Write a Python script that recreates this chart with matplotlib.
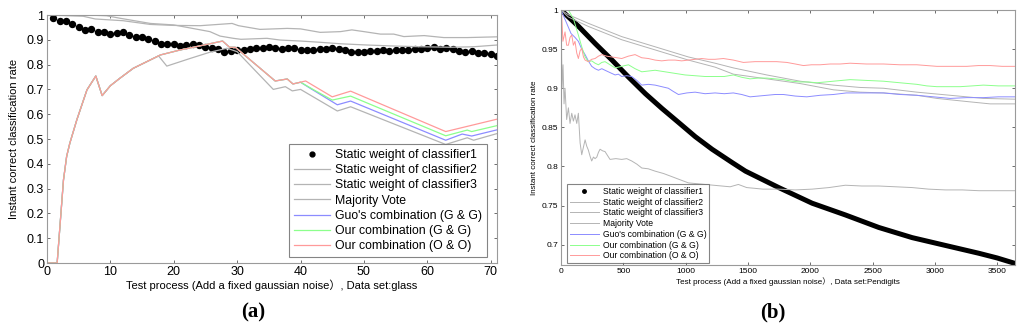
import matplotlib
matplotlib.use('Agg')
import matplotlib.pyplot as plt
from matplotlib.lines import Line2D
from matplotlib.ticker import FuncFormatter

plt.rcParams['font.family'] = ['Liberation Sans', 'Noto Sans CJK SC']

# ---------------- (a) glass ----------------
a_dot_x = list(range(1, 72))
a_dot_y = [0.989, 0.977, 0.977, 0.964, 0.950, 0.938, 0.942, 0.931, 0.933, 0.923,
           0.926, 0.930, 0.919, 0.910, 0.910, 0.904, 0.895, 0.884, 0.883, 0.885,
           0.876, 0.879, 0.882, 0.879, 0.871, 0.867, 0.862, 0.850, 0.856, 0.859,
           0.857, 0.862, 0.865, 0.866, 0.869, 0.865, 0.861, 0.865, 0.866, 0.860,
           0.857, 0.860, 0.861, 0.861, 0.865, 0.862, 0.857, 0.851, 0.852, 0.850,
           0.854, 0.856, 0.860, 0.855, 0.860, 0.860, 0.860, 0.861, 0.864, 0.866,
           0.869, 0.863, 0.866, 0.863, 0.856, 0.852, 0.856, 0.848, 0.845, 0.842,
           0.835]

a_c2_x = [0, 5.7, 7.6, 12, 16.3, 20, 24.2, 29.2, 30.2, 33.6, 37.9, 40, 43.1, 46.3,
          48.1, 50, 52.6, 54.7, 56.3, 59.5, 62.6, 66.3, 71]
a_c2_y = [1.0, 0.995, 0.984, 0.977, 0.962, 0.958, 0.957, 0.966, 0.957, 0.942, 0.946,
          0.944, 0.930, 0.933, 0.940, 0.933, 0.923, 0.923, 0.913, 0.917, 0.909, 0.909, 0.912]

a_c3_x = [0, 6.3, 9.4, 11.5, 16.3, 20, 25.7, 27.3, 29.4, 30.6, 34.7, 36.8, 40, 43.1,
          46.3, 50.5, 54.7, 58.9, 63.7, 67.3, 71]
a_c3_y = [1.0, 1.0, 0.997, 0.987, 0.966, 0.960, 0.933, 0.915, 0.906, 0.902, 0.906,
          0.899, 0.895, 0.890, 0.884, 0.879, 0.875, 0.872, 0.870, 0.872, 0.879]

a_mv_x = [0, 1.6, 2.6, 3.1, 3.6, 4.7, 6.3, 7.7, 8.7, 10, 11.5, 13.6, 17.6, 18.9, 22.6,
          25.7, 28.4, 30, 35.7, 37.6, 38.7, 40, 45.8, 47.9, 62.9, 66.3, 67.3, 71]
a_mv_y = [0, 0, 0.335, 0.43, 0.483, 0.577, 0.698, 0.754, 0.675, 0.715, 0.745, 0.785,
          0.835, 0.794, 0.825, 0.850, 0.866, 0.852, 0.700, 0.711, 0.694, 0.700, 0.613,
          0.630, 0.478, 0.505, 0.495, 0.522]

a_guo_x = [0, 1.6, 2.6, 3.1, 3.6, 4.7, 6.3, 7.7, 8.7, 10, 11.5, 13.6, 17.9, 21, 24.2,
           27.7, 28.8, 29.7, 36, 37.9, 38.8, 40, 41.5, 45.8, 47.9, 62.9, 65.5, 67, 71]
a_guo_y = [0, 0, 0.335, 0.43, 0.483, 0.577, 0.698, 0.754, 0.675, 0.715, 0.745, 0.785,
           0.839, 0.859, 0.876, 0.895, 0.870, 0.870, 0.734, 0.742, 0.722, 0.729, 0.705,
           0.638, 0.653, 0.495, 0.520, 0.512, 0.537]

a_gg_x = [0, 1.6, 2.6, 3.1, 3.6, 4.7, 6.3, 7.7, 8.7, 10, 11.5, 13.6, 17.9, 21, 24.2,
          27.7, 28.8, 29.7, 36, 37.9, 38.8, 40, 42.1, 45, 47.9, 62.9, 66.3, 67, 71]
a_gg_y = [0, 0, 0.335, 0.43, 0.483, 0.577, 0.698, 0.754, 0.675, 0.715, 0.745, 0.785,
          0.839, 0.859, 0.876, 0.895, 0.870, 0.870, 0.734, 0.742, 0.722, 0.729, 0.698,
          0.657, 0.673, 0.513, 0.536, 0.530, 0.554]

a_oo_x = [0, 1.6, 2.6, 3.1, 3.6, 4.7, 6.3, 7.7, 8.7, 10, 11.5, 13.6, 17.9, 21, 24.2,
          27.7, 28.8, 29.7, 36, 37.9, 38.8, 40.8, 45, 47.9, 62.9, 71]
a_oo_y = [0, 0, 0.335, 0.43, 0.483, 0.577, 0.698, 0.754, 0.675, 0.715, 0.745, 0.785,
          0.839, 0.859, 0.876, 0.895, 0.870, 0.870, 0.734, 0.742, 0.722, 0.734, 0.670,
          0.693, 0.530, 0.580]

# ---------------- (b) Pendigits ----------------
b_c1_x = [0, 141, 275, 409, 543, 677, 811, 945, 1078, 1212, 1373, 1480, 1747, 2015,
          2282, 2550, 2818, 3085, 3353, 3500, 3644]
b_c1_y = [1.0, 0.979, 0.957, 0.936, 0.914, 0.893, 0.874, 0.856, 0.838, 0.822, 0.805,
          0.794, 0.773, 0.753, 0.738, 0.722, 0.709, 0.699, 0.689, 0.683, 0.676]

b_c2_x = [0, 8, 16, 24, 32, 45, 59, 72, 86, 99, 112, 126, 139, 153, 166, 180, 193, 206,
          219, 233, 246, 260, 273, 287, 300, 313, 333, 353, 373, 393, 440, 487, 527,
          567, 608, 648, 700, 755, 822, 889, 955, 1022, 1089, 1156, 1223, 1290, 1357,
          1423, 1490, 1557, 1620, 1747, 1880, 2015, 2150, 2282, 2415, 2550, 2685, 2818,
          2950, 3085, 3220, 3353, 3490, 3644]
b_c2_y = [1.0, 0.900, 0.930, 0.880, 0.900, 0.860, 0.875, 0.855, 0.868, 0.858, 0.866,
          0.855, 0.868, 0.830, 0.815, 0.825, 0.834, 0.826, 0.821, 0.813, 0.807, 0.812,
          0.810, 0.812, 0.818, 0.822, 0.820, 0.819, 0.814, 0.809, 0.810, 0.809, 0.810,
          0.807, 0.803, 0.798, 0.797, 0.794, 0.791, 0.787, 0.783, 0.779, 0.778, 0.777,
          0.776, 0.775, 0.774, 0.777, 0.773, 0.772, 0.771, 0.771, 0.770, 0.771, 0.773,
          0.776, 0.775, 0.775, 0.774, 0.773, 0.771, 0.770, 0.770, 0.769, 0.769, 0.769]

b_c3_x = [0, 59, 219, 487, 755, 1022, 1236, 1383, 1651, 1919, 2186, 2400, 2587, 2855,
          3123, 3390, 3644]
b_c3_y = [1.0, 0.994, 0.983, 0.966, 0.953, 0.940, 0.932, 0.926, 0.917, 0.909, 0.904,
          0.901, 0.900, 0.895, 0.891, 0.887, 0.886]

b_mv_x = [0, 59, 219, 487, 755, 1022, 1236, 1383, 1651, 1919, 2186, 2400, 2587, 2855,
          3016, 3257, 3444, 3644]
b_mv_y = [1.0, 0.991, 0.979, 0.962, 0.949, 0.936, 0.927, 0.918, 0.912, 0.906, 0.898,
          0.895, 0.894, 0.891, 0.887, 0.883, 0.880, 0.880]

b_guo_x = [0, 40, 80, 112, 139, 166, 193, 219, 246, 273, 300, 327, 353, 393, 434, 460,
           487, 527, 567, 608, 648, 701, 755, 808, 861, 900, 942, 1009, 1076, 1156,
           1236, 1310, 1383, 1450, 1517, 1584, 1651, 1718, 1785, 1880, 1972, 2080, 2186,
           2290, 2400, 2490, 2587, 2720, 2855, 2990, 3123, 3256, 3390, 3510, 3644]
b_guo_y = [1.0, 0.985, 0.970, 0.965, 0.960, 0.950, 0.943, 0.935, 0.928, 0.925, 0.923,
           0.925, 0.923, 0.920, 0.917, 0.918, 0.915, 0.916, 0.915, 0.910, 0.904, 0.905,
           0.904, 0.902, 0.900, 0.896, 0.892, 0.894, 0.895, 0.893, 0.894, 0.893, 0.894,
           0.892, 0.889, 0.890, 0.891, 0.892, 0.892, 0.890, 0.889, 0.891, 0.892, 0.894,
           0.894, 0.894, 0.894, 0.892, 0.891, 0.889, 0.887, 0.888, 0.888, 0.889, 0.889]

b_gg_x = [0, 59, 99, 139, 166, 193, 219, 246, 273, 300, 327, 353, 393, 434, 487, 541,
          594, 648, 701, 755, 835, 915, 995, 1076, 1156, 1236, 1310, 1383, 1450, 1517,
          1584, 1651, 1718, 1785, 1852, 1919, 1986, 2053, 2120, 2186, 2253, 2320, 2450,
          2587, 2720, 2855, 2935, 3016, 3110, 3203, 3300, 3390, 3510, 3644]
b_gg_y = [1.0, 1.0, 0.989, 0.968, 0.953, 0.940, 0.934, 0.935, 0.932, 0.930, 0.933,
          0.934, 0.930, 0.926, 0.928, 0.930, 0.925, 0.921, 0.922, 0.923, 0.921, 0.919,
          0.917, 0.916, 0.915, 0.915, 0.915, 0.917, 0.914, 0.912, 0.913, 0.913, 0.912,
          0.911, 0.909, 0.908, 0.908, 0.907, 0.908, 0.909, 0.910, 0.911, 0.910, 0.909,
          0.907, 0.905, 0.903, 0.902, 0.902, 0.902, 0.903, 0.904, 0.903, 0.903]

b_oo_x = [0, 5, 15, 32, 45, 59, 72, 86, 99, 112, 126, 139, 153, 166, 180, 193, 219, 246,
          273, 300, 327, 367, 407, 447, 487, 540, 594, 647, 701, 755, 808, 862, 915,
          968, 1022, 1076, 1129, 1183, 1236, 1303, 1383, 1463, 1557, 1651, 1730, 1812,
          1880, 1945, 2010, 2079, 2160, 2240, 2320, 2450, 2587, 2720, 2855, 2935, 3016,
          3137, 3257, 3350, 3444, 3540, 3644]
b_oo_y = [1.0, 0.994, 0.960, 0.972, 0.955, 0.955, 0.965, 0.968, 0.955, 0.960, 0.945,
          0.938, 0.948, 0.951, 0.940, 0.936, 0.934, 0.937, 0.938, 0.941, 0.943, 0.941,
          0.940, 0.939, 0.938, 0.941, 0.943, 0.939, 0.938, 0.936, 0.935, 0.936, 0.936,
          0.935, 0.936, 0.937, 0.938, 0.937, 0.937, 0.938, 0.936, 0.933, 0.934, 0.934,
          0.934, 0.933, 0.931, 0.929, 0.930, 0.930, 0.931, 0.931, 0.932, 0.931, 0.931,
          0.930, 0.930, 0.929, 0.928, 0.928, 0.928, 0.929, 0.929, 0.928, 0.928]

labels = ['Static weight of classifier1', 'Static weight of classifier2',
          'Static weight of classifier3', 'Majority Vote',
          "Guo's combination (G & G)", 'Our combination (G & G)',
          'Our combination (O & O)']

GRAY = '#b4b4b4'
BLUE = '#8c8cff'
GREEN = '#8cff8c'
RED = '#ff9a9a'
FRAME = '#9a9a9a'
cjk = ['Liberation Sans', 'Noto Sans CJK SC']


def style_axes(ax, size):
    for s in ax.spines.values():
        s.set_color(FRAME)
        s.set_linewidth(0.8)
    ax.tick_params(direction='in', top=True, right=True, length=2.5, width=0.6,
                   color='#555555', labelsize=size, pad=2)


fig = plt.figure(figsize=(10.24, 3.32), dpi=100)

# (a)
ax1 = fig.add_axes([0.0459, 0.2078, 0.4395, 0.747])
ax1.plot(a_dot_x, a_dot_y, 'o', color='black', ms=4.3, label=labels[0])
ax1.plot(a_c2_x, a_c2_y, color=GRAY, lw=0.9, label=labels[1])
ax1.plot(a_c3_x, a_c3_y, color=GRAY, lw=0.9, label=labels[2])
ax1.plot(a_mv_x, a_mv_y, color=GRAY, lw=0.9, label=labels[3])
ax1.plot(a_guo_x, a_guo_y, color=BLUE, lw=0.9, label=labels[4])
ax1.plot(a_gg_x, a_gg_y, color=GREEN, lw=0.9, label=labels[5])
ax1.plot(a_oo_x, a_oo_y, color=RED, lw=0.9, label=labels[6])
ax1.set_xlim(0, 71)
ax1.set_ylim(0, 1)
ax1.set_xticks(range(0, 71, 10))
ax1.set_yticks([i / 10 for i in range(11)])
ax1.yaxis.set_major_formatter(FuncFormatter(lambda v, p: '%g' % round(v, 2)))
style_axes(ax1, 9)
ax1.set_xlabel('Test process (Add a fixed gaussian noise）, Data set:glass',
               fontsize=8, family=cjk, labelpad=1)
ax1.set_ylabel('Instant correct classification rate', fontsize=8, labelpad=5.5)
h1 = ax1.get_legend_handles_labels()[0]
h1[0] = Line2D([], [], marker='.', ls='none', color='black', ms=7)
leg1 = ax1.legend(h1, labels, loc='lower right', bbox_to_anchor=(0.978, 0.024),
                  fontsize=8.8, frameon=True, fancybox=False, handlelength=3.0,
                  borderpad=0.4, labelspacing=0.26, handletextpad=0.4,
                  borderaxespad=0)
leg1.get_frame().set_edgecolor('#666666')
leg1.get_frame().set_linewidth(0.8)

# (b)
ax2 = fig.add_axes([0.5479, 0.2018, 0.4434, 0.768])
ax2.plot(b_c1_x, b_c1_y, color='black', lw=3.6, solid_capstyle='round', label=labels[0])
ax2.plot(b_c2_x, b_c2_y, color=GRAY, lw=0.7, label=labels[1])
ax2.plot(b_c3_x, b_c3_y, color=GRAY, lw=0.7, label=labels[2])
ax2.plot(b_mv_x, b_mv_y, color=GRAY, lw=0.7, label=labels[3])
ax2.plot(b_guo_x, b_guo_y, color=BLUE, lw=0.7, label=labels[4])
ax2.plot(b_gg_x, b_gg_y, color=GREEN, lw=0.7, label=labels[5])
ax2.plot(b_oo_x, b_oo_y, color=RED, lw=0.7, label=labels[6])
ax2.set_xlim(0, 3644)
ax2.set_ylim(0.674, 1.0)
ax2.set_xticks(range(0, 3501, 500))
ax2.set_yticks([0.7, 0.75, 0.8, 0.85, 0.9, 0.95, 1.0])
ax2.yaxis.set_major_formatter(FuncFormatter(lambda v, p: '%g' % round(v, 2)))
style_axes(ax2, 6)
ax2.set_xlabel('Test process (Add a fixed gaussian noise）, Data set:Pendigits',
               fontsize=5.8, family=cjk, labelpad=2)
ax2.set_ylabel('Instant correct classification rate', fontsize=5.8, labelpad=3)
h2 = ax2.get_legend_handles_labels()[0]
h2[0] = Line2D([], [], marker='.', ls='none', color='black', ms=5)
leg2 = ax2.legend(h2, labels, loc='lower left', bbox_to_anchor=(0.013, 0.008),
                  fontsize=6.2, frameon=True, fancybox=False, handlelength=3.4,
                  borderpad=0.3, labelspacing=0.2, handletextpad=0.5,
                  borderaxespad=0)
leg2.get_frame().set_edgecolor('#666666')
leg2.get_frame().set_linewidth(0.8)

fig.text(0.247, 0.06, '(a)', ha='center', va='center', fontsize=15,
         fontweight='bold', family='Liberation Serif')
fig.text(0.755, 0.06, '(b)', ha='center', va='center', fontsize=15,
         fontweight='bold', family='Liberation Serif')

fig.savefig('out.png', dpi=100)
